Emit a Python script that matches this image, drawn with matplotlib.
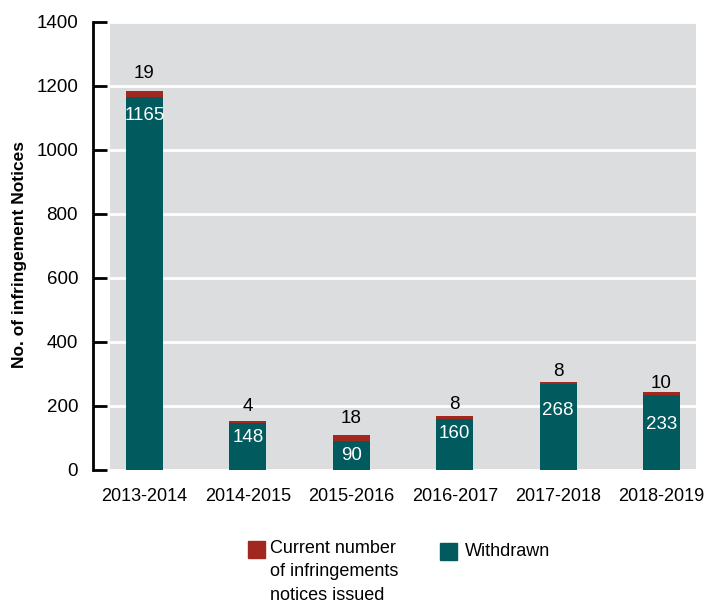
import matplotlib.pyplot as plt
import numpy as np
from matplotlib.patches import Rectangle

years = ['2013-2014', '2014-2015', '2015-2016', '2016-2017', '2017-2018', '2018-2019']
withdrawn = [1165, 148, 90, 160, 268, 233]
current = [19, 4, 18, 8, 8, 10]

plt.rcParams['font.family'] = ['Liberation Sans', 'DejaVu Sans']

teal = '#005a5e'
red = '#a0281f'
bg = '#dcdddf'

W, H = 707, 605
fig = plt.figure(figsize=(W / 100, H / 100), dpi=100)
ax = fig.add_axes([110 / W, 1 - 470 / H, 586 / W, 448 / H])
ax.set_facecolor(bg)

x = np.arange(len(years))
width = 0.36
b1 = ax.bar(x, withdrawn, width, color=teal, zorder=3)
b2 = ax.bar(x, current, width, bottom=withdrawn, color=red, zorder=3)

# white value labels inside the teal part
inner_off = [-18, -15, -14, -15, -26, -29]
for xi, w, off in zip(x, withdrawn, inner_off):
    ax.annotate(str(w), (xi, w), xytext=(0, off), textcoords='offset pixels',
                ha='center', va='center', color='white', fontsize=13.5, zorder=4)

# black labels above the bar
top_off = [18, 15, 17, 12, 10, 9]
for xi, w, c, off in zip(x, withdrawn, current, top_off):
    ax.annotate(str(c), (xi, w + c), xytext=(0, off), textcoords='offset pixels',
                ha='center', va='center', color='black', fontsize=13.5, zorder=4)

ax.set_xlim(-1/3, 5 + 1/3)
ax.set_ylim(0, 1400)
ax.set_yticks(np.arange(0, 1401, 200))
ax.grid(axis='y', color='white', linewidth=2, zorder=1)
ax.set_axisbelow(True)

for s in ['top', 'right', 'bottom']:
    ax.spines[s].set_visible(False)
ax.spines['left'].set_position(('outward', 12))
ax.spines['left'].set_linewidth(2)

ax.tick_params(axis='y', direction='in', length=10, width=2, pad=11, labelsize=13.5)
ax.tick_params(axis='x', length=0, pad=13, labelsize=13)
ax.set_xticks(x)
ax.set_xticklabels(years)
ax.set_ylabel('No. of infringement Notices', fontsize=12.5, fontweight='bold', va='center')
ax.yaxis.set_label_coords(20 / W, 1 - 254 / H, transform=fig.transFigure)

# legend, handles aligned with the first text line
fig.patches.append(Rectangle((248 / W, 1 - 558 / H), 17 / W, 17 / H, color=red,
                             transform=fig.transFigure, figure=fig))
fig.text(270 / W, 1 - 540 / H, 'Current number\nof infringements\nnotices issued',
         ha='left', va='top', fontsize=13, linespacing=1.5)
fig.patches.append(Rectangle((440 / W, 1 - 560 / H), 17 / W, 17 / H, color=teal,
                             transform=fig.transFigure, figure=fig))
fig.text(465 / W, 1 - 552 / H, 'Withdrawn', ha='left', va='center', fontsize=13)

fig.savefig('out.png', dpi=100, facecolor='white')
